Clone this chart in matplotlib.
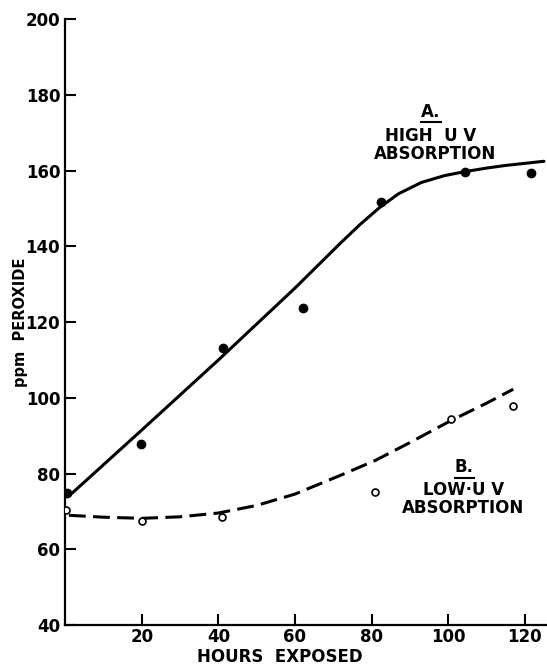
import numpy as np
import matplotlib
matplotlib.use('Agg')
import matplotlib.pyplot as plt
from matplotlib.lines import Line2D

# Measured points
hours_a = [0.5, 19.8, 41.3, 62.2, 82.4, 104.3, 121.6]
ppm_a = [75.0, 87.8, 113.3, 123.8, 151.7, 159.6, 159.4]

hours_b = [0.3, 20.0, 41.0, 80.9, 100.7, 117.0]
ppm_b = [70.3, 67.5, 68.5, 75.2, 94.4, 97.8]

# Hand drawn trend curves
curve_a_x = [0.5, 2, 20, 40, 60, 72, 77, 82, 87, 93, 99, 104, 110, 115, 125]
curve_a_y = [74.0, 75.0, 91.5, 110.0, 129.0, 141.0, 145.8, 150.2, 153.9, 156.9, 158.7, 159.7, 160.7, 161.4, 162.5]

curve_b_x = [1, 10, 20, 30, 40, 50, 60, 72, 81, 90, 100.7, 110, 117]
curve_b_y = [69.0, 68.5, 68.2, 68.6, 69.6, 71.6, 74.6, 79.6, 83.5, 88.2, 94.0, 98.6, 102.3]

x_ticks = [20, 40, 60, 80, 100, 120]
y_ticks = [40, 60, 80, 100, 120, 140, 160, 180, 200]

plt.rcParams['font.family'] = ['DejaVu Sans']
plt.rcParams['font.weight'] = 'bold'

fig = plt.figure(figsize=(5.47, 6.65), dpi=100)
ax = fig.add_axes([0.119, 0.06, 0.881, 0.911])

ax.plot(curve_a_x, curve_a_y, color='black', lw=2.2, solid_capstyle='round', solid_joinstyle='round')
ax.plot(curve_b_x, curve_b_y, color='black', lw=2.2, dashes=(5.5, 2.4))
ax.plot(hours_a, ppm_a, 'o', color='black', ms=6, zorder=3)
ax.plot(hours_b, ppm_b, 'o', mfc='white', mec='black', mew=1.2, ms=5, zorder=3)

ax.set_xlim(0, 125.8)
ax.set_ylim(40, 200)
ax.set_xticks(x_ticks)
ax.set_yticks(y_ticks)
ax.tick_params(direction='in', length=8, width=1.5, labelsize=12)
ax.tick_params(axis='x', pad=2)
for lab in ax.get_xticklabels() + ax.get_yticklabels():
    lab.set_fontweight('bold')

for s in ['top', 'right']:
    ax.spines[s].set_visible(False)
for s in ['left', 'bottom']:
    ax.spines[s].set_linewidth(1.6)

ax.set_xlabel('HOURS  EXPOSED', fontsize=12, fontweight='bold', va='center')
ax.xaxis.set_label_coords(0.446, -0.053)
ax.set_ylabel('ppm  PEROXIDE', fontsize=10.5, fontweight='bold', va='center')
ax.yaxis.set_label_coords(-0.093, 0.5)

# Curve labels
lab_a = ax.text(95.5, 175.6, 'A.', fontsize=12, fontweight='bold', ha='center', va='center')
ax.text(95.5, 169.3, 'HIGH  U V', fontsize=12, fontweight='bold', ha='center', va='center')
ax.text(96.7, 164.5, 'ABSORPTION', fontsize=12, fontweight='bold', ha='center', va='center')

lab_b = ax.text(104.2, 81.7, 'B.', fontsize=12, fontweight='bold', ha='center', va='center')
ax.text(104.0, 75.6, 'LOW·U V', fontsize=12, fontweight='bold', ha='center', va='center')
ax.text(103.8, 70.9, 'ABSORPTION', fontsize=12, fontweight='bold', ha='center', va='center')

# underline the A. and B. labels
fig.canvas.draw()
inv = fig.transFigure.inverted()
for t in [lab_a, lab_b]:
    bb = t.get_window_extent()
    (x0, y0), (x1, y1) = inv.transform([(bb.x0, bb.y0), (bb.x1, bb.y0)])
    fig.add_artist(Line2D([x0, x1], [y0 - 0.002, y0 - 0.002], color='black', lw=1.5,
                          transform=fig.transFigure))

fig.savefig('out.png', dpi=100)
